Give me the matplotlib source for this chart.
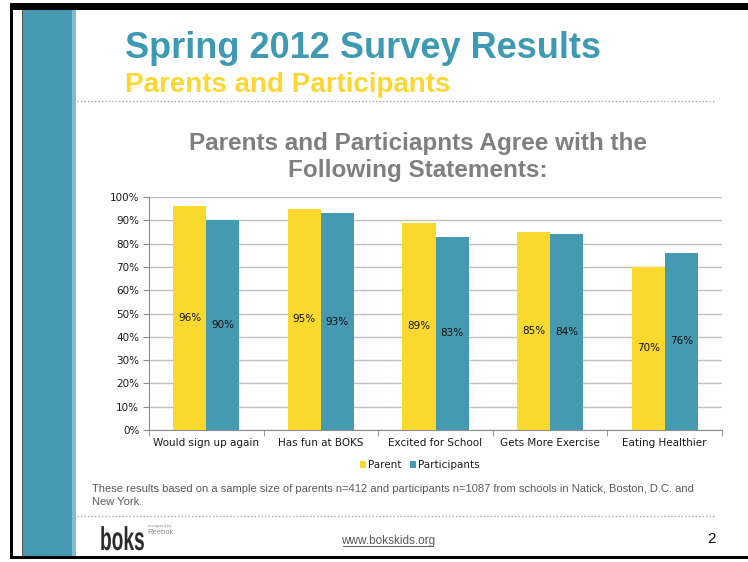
import numpy as np
import matplotlib
matplotlib.use("Agg")
import matplotlib.pyplot as plt
from matplotlib.patches import Rectangle, PathPatch
from matplotlib.lines import Line2D
from matplotlib.textpath import TextPath
from matplotlib.font_manager import FontProperties
from matplotlib.transforms import Affine2D

# data
categories = ["Would sign up again", "Has fun at BOKS", "Excited for School",
              "Gets More Exercise", "Eating Healthier"]
parent = [96, 95, 89, 85, 70]
participants = [90, 93, 83, 84, 76]
yticks = [0, 10, 20, 30, 40, 50, 60, 70, 80, 90, 100]

yellow = "#F9D92E"
teal = "#4599B0"

W, H = 748, 562
fig = plt.figure(figsize=(W / 100, H / 100), dpi=100)


def px(x, y):
    # pixel position -> figure fraction
    return x / W, 1 - y / H


def frect(x0, y0, x1, y1, color, z=0):
    fig.add_artist(Rectangle(px(x0, y1), (x1 - x0) / W, (y1 - y0) / H,
                             transform=fig.transFigure, color=color, lw=0, zorder=z))


def fline(x0, x1, y, **kw):
    a, b = px(x0, y)
    c, d = px(x1, y)
    fig.add_artist(Line2D([a, c], [b, d], transform=fig.transFigure, **kw))


# slide frame
frect(10, 3, 748, 10, "black")
frect(10, 3, 12.5, 559, "black")
frect(10, 556, 748, 559, "black")
frect(22, 10, 23, 556, "#555555")
frect(23, 10, 75, 556, teal)
frect(72, 10, 76, 556, "#7fbccc")

# titles
sans = ["Liberation Sans", "DejaVu Sans"]
fig.text(*px(125, 58), "Spring 2012 Survey Results", color="#3E9AB3", fontsize=26,
         fontweight="bold", family=sans, va="baseline", ha="left")
fig.text(*px(125, 92), "Parents and Participants", color="#FCD734", fontsize=20,
         fontweight="bold", family=sans, va="baseline", ha="left")
fline(77, 715, 101, color="#a6a6a6", lw=1, ls=(0, (1, 1.5)))

fig.text(*px(418, 150), "Parents and Particiapnts Agree with the", color="#7F7F7F",
         fontsize=17.5, fontweight="bold", family=sans, va="baseline", ha="center")
fig.text(*px(418, 177), "Following Statements:", color="#7F7F7F",
         fontsize=17.5, fontweight="bold", family=sans, va="baseline", ha="center")

# chart
x0, x1, ytop, ybot = 149, 722, 197, 430
ax = fig.add_axes([x0 / W, 1 - ybot / H, (x1 - x0) / W, (ybot - ytop) / H])
x = np.arange(len(categories))
bw = 0.288
ax.bar(x - bw / 2, parent, bw, color=yellow, label="Parent", zorder=3)
ax.bar(x + bw / 2, participants, bw, color=teal, label="Participants", zorder=3)
for i in range(len(categories)):
    ax.text(x[i] - bw / 2, parent[i] / 2, f"{parent[i]}%", ha="center", va="center",
            fontsize=7.5, color="#111111", zorder=4)
    ax.text(x[i] + bw / 2, participants[i] / 2, f"{participants[i]}%", ha="center",
            va="center", fontsize=7.5, color="#111111", zorder=4)

ax.set_xlim(-0.5, len(categories) - 0.5)
ax.set_ylim(0, 100)
ax.set_yticks(yticks)
ax.set_yticklabels([f"{v}%" for v in yticks], fontsize=7.5, color="#1a1a1a")
ax.set_xticks(x)
ax.set_xticklabels(categories, fontsize=7.5, color="#1a1a1a")
ax.set_xticks(np.arange(-0.5, len(categories)), minor=True)
ax.tick_params(axis="x", which="major", length=0, pad=6)
ax.tick_params(axis="x", which="minor", length=4, color="#8c8c8c")
ax.tick_params(axis="y", length=4, color="#8c8c8c", pad=3)
ax.grid(axis="y", color="#bfbfbf", lw=1, zorder=0)
ax.set_axisbelow(True)
for s in ["top", "right"]:
    ax.spines[s].set_visible(False)
for s in ["left", "bottom"]:
    ax.spines[s].set_color("#8c8c8c")

fig.legend(loc="center", bbox_to_anchor=px(420, 465), ncol=2, frameon=False,
           fontsize=7.5, handlelength=0.6, handleheight=0.6, handletextpad=0.2,
           columnspacing=0.8, labelcolor="#1a1a1a")

# footnote and footer
fig.text(*px(92, 492), "These results based on a sample size of parents n=412 and participants "
         "n=1087 from schools in Natick, Boston, D.C. and", color="#595959", fontsize=8,
         family=sans, va="baseline")
fig.text(*px(92, 505), "New York.", color="#595959", fontsize=8, family=sans, va="baseline")
fline(77, 715, 516, color="#a6a6a6", lw=1, ls=(0, (1, 1.5)))

# logo: condensed "boks" drawn as a squeezed text path (display pixels, dpi 100)
logo = TextPath((0, 0), "boks", size=33,
                prop=FontProperties(family="Liberation Sans", weight="bold"))
fig.add_artist(PathPatch(logo, color="#2b2b2b", lw=0,
                         transform=Affine2D().scale(0.58, 1.0).translate(100, H - 550)))
fig.text(*px(148, 527), "energized by", color="#8c8c8c", fontsize=3, family=sans,
         va="baseline")
fig.text(*px(147, 534), "Reebok", color="#8c8c8c", fontsize=5.5, family=sans,
         va="baseline")
fig.text(*px(388, 544), "www.bokskids.org", color="#595959", fontsize=8.5, family=sans,
         va="baseline", ha="center")
fline(343, 433, 546, color="#595959", lw=0.7)
fig.text(*px(712, 543), "2", color="#111111", fontsize=11, family=sans, va="baseline",
         ha="center")

fig.savefig("out.png", dpi=100)
